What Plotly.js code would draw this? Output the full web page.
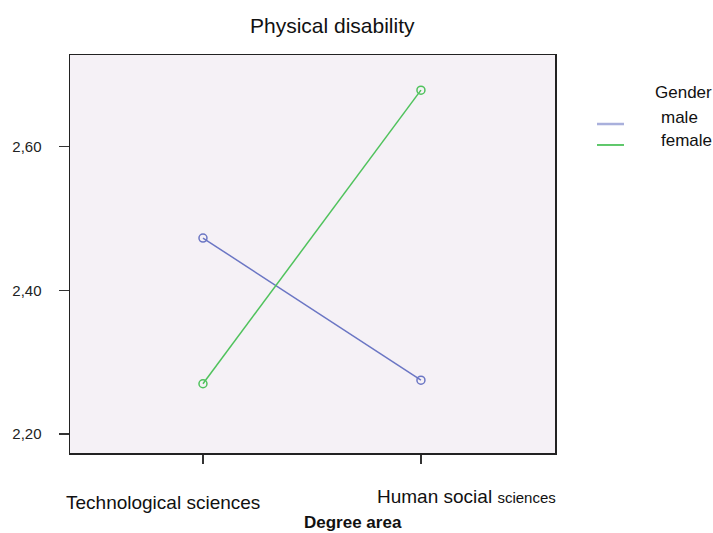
<!DOCTYPE html>
<html>
<head>
<meta charset="utf-8">
<script src="https://cdn.plot.ly/plotly-3.0.1.min.js"></script>
<style>html,body{margin:0;padding:0;background:#fff;}#chart{width:713px;height:533px;}</style>
</head>
<body>
<div id="chart"></div>
<script>
const categories = ["Technological sciences", "Human social sciences"];
const categoryLabels = ["Technological sciences", "Human social <span style=\"font-size:15px\">sciences</span>"];
const maleValues = [2.473, 2.275];
const femaleValues = [2.270, 2.679];
const seriesNames = ["male", "female"];
const legendTitle = "Gender";
const xAxisTitle = "Degree area";
const chartTitle = "Physical disability";
const yTickVals = [2.2, 2.4, 2.6];
const yTickText = ["2,20", "2,40", "2,60"];

const maleColor = "#6b76c4";
const maleLegendColor = "#a9b0dc";
const femaleColor = "#4fc25c";
const font = "Liberation Sans, Arial, sans-serif";

const traces = [
  {x: categories, y: maleValues, mode: "lines+markers", name: seriesNames[0],
   line: {color: maleColor, width: 1.5},
   marker: {symbol: "circle-open", size: 8, color: maleColor, line: {width: 1.5}}},
  {x: categories, y: femaleValues, mode: "lines+markers", name: seriesNames[1],
   line: {color: femaleColor, width: 1.5},
   marker: {symbol: "circle-open", size: 8, color: femaleColor, line: {width: 1.5}}}
];

const layout = {
  width: 713, height: 533,
  margin: {l: 70, r: 158, t: 55, b: 80},
  paper_bgcolor: "#ffffff",
  plot_bgcolor: "#f5f1f6",
  font: {family: font, size: 15, color: "#111"},
  separators: ",.",
  showlegend: false,
  title: {text: chartTitle, x: 0.466, xanchor: "center", y: 0.951, yanchor: "middle",
          font: {family: font, size: 21, color: "#111"}},
  xaxis: {
    type: "category", range: [-0.61, 1.615],
    showgrid: false, zeroline: false,
    showline: true, linecolor: "#222", linewidth: 1.5, mirror: true,
    ticks: "outside", ticklen: 9, tickcolor: "#333", tickwidth: 1.2,
    showticklabels: false
  },
  yaxis: {
    range: [2.1735, 2.728],
    showgrid: false, zeroline: false,
    showline: true, linecolor: "#222", linewidth: 1.5, mirror: true,
    ticks: "outside", ticklen: 10, tickcolor: "#333", tickwidth: 1.2,
    tickvals: yTickVals, ticktext: yTickText,
    ticklabelstandoff: 14,
    tickfont: {family: font, size: 15, color: "#222"}
  },
  shapes: [
    {type: "line", xref: "paper", yref: "paper", x0: 1.0866, x1: 1.1423, y0: 0.8266, y1: 0.8266,
     line: {color: maleLegendColor, width: 2.5}},
    {type: "line", xref: "paper", yref: "paper", x0: 1.0866, x1: 1.1423, y0: 0.7739, y1: 0.7739,
     line: {color: femaleColor, width: 1.8}}
  ],
  annotations: [
    {xref: "x", yref: "paper", x: categories[0], y: 0, yshift: -37, xshift: -40,
     yanchor: "top", showarrow: false, text: categoryLabels[0],
     font: {family: font, size: 19, color: "#111"}},
    {xref: "x", yref: "paper", x: categories[1], y: 0, yshift: -31, xshift: -46,
     xanchor: "left", yanchor: "top", showarrow: false, text: categoryLabels[1],
     font: {family: font, size: 19, color: "#111"}},
    {xref: "paper", yref: "paper", x: 0.583, y: 0, yshift: -69, xanchor: "center", yanchor: "middle",
     showarrow: false, text: "<b>" + xAxisTitle + "</b>",
     font: {family: font, size: 17, color: "#111"}},
    {xref: "paper", yref: "paper", x: 1.202, y: 0.907, xanchor: "left", yanchor: "middle",
     showarrow: false, text: legendTitle, font: {family: font, size: 17, color: "#111"}},
    {xref: "paper", yref: "paper", x: 1.2144, y: 0.844, xanchor: "left", yanchor: "middle",
     showarrow: false, text: seriesNames[0], font: {family: font, size: 17, color: "#111"}},
    {xref: "paper", yref: "paper", x: 1.2144, y: 0.786, xanchor: "left", yanchor: "middle",
     showarrow: false, text: seriesNames[1], font: {family: font, size: 17, color: "#111"}}
  ]
};

Plotly.newPlot("chart", traces, layout, {displayModeBar: false, staticPlot: true});
</script>
</body>
</html>
